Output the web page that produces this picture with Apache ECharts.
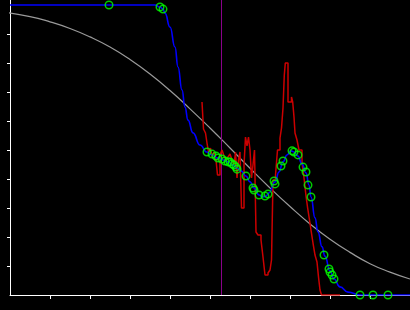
<!DOCTYPE html>
<html><head><meta charset="utf-8">
<script src="https://cdn.jsdelivr.net/npm/echarts@6/dist/echarts.min.js"></script>
<style>html,body{margin:0;padding:0;background:#000}#c{width:410px;height:310px}</style>
</head><body><div id="c"></div>
<script>
// Grey smooth curve
const greyX = [-0.25,0.5,1,1.5,2,2.5,3,3.5,4,4.5,5,5.5,6,6.5,7,7.5,8,8.5,9,9.5,10];
const greyY = [9.77,9.6,9.42,9.19,8.9,8.55,8.12,7.62,7.05,6.42,5.76,5.07,4.37,3.69,3.05,2.45,1.92,1.47,1.08,0.79,0.55];
// Blue fitted curve
const blueX = [0,3.375,3.625,3.75,3.825,3.875,4.0,4.125,4.2,4.3,4.375,4.45,4.575,4.75,4.925,5.05,5.2,5.325,5.45,5.575,5.675,5.775,5.9,6.0,6.1,6.225,6.325,6.4,6.475,6.625,6.725,6.825,6.925,7.025,7.1,7.2,7.3,7.4,7.475,7.525,7.625,7.7,7.8,7.875,8.0,8.1,8.25,8.45,8.75,10];
const blueY = [10,10,10,9.93,9.86,9.72,9.24,8.55,7.86,7.07,6.48,6.03,5.59,5.17,4.93,4.83,4.72,4.66,4.59,4.48,4.38,4.28,4.10,3.90,3.69,3.45,3.38,3.41,3.52,3.90,4.24,4.59,4.83,4.97,4.93,4.79,4.52,4.21,3.79,3.38,2.66,2.17,1.66,1.34,0.83,0.55,0.28,0.10,0,0];
// Green observed points
const ptX = [2.475,3.75,3.825,4.925,5.05,5.15,5.2,5.3,5.375,5.45,5.5,5.55,5.6,5.65,5.675,5.9,6.075,6.1,6.225,6.375,6.45,6.6,6.625,6.775,6.825,7.05,7.1,7.2,7.325,7.4,7.45,7.525,7.85,7.975,8.0,8.05,8.1,8.75,9.075,9.45];
const ptY = [10,9.93,9.86,4.93,4.86,4.79,4.72,4.69,4.62,4.59,4.59,4.52,4.48,4.41,4.34,4.10,3.69,3.62,3.45,3.41,3.48,3.93,3.83,4.45,4.62,4.97,4.93,4.83,4.41,4.24,3.79,3.38,1.38,0.90,0.79,0.69,0.55,0,0,0];
// Red histogram (step)
const redX = [4.8,4.8375,4.8875,4.925,4.9625,5.0125,5.05,5.1,5.15,5.1875,5.25,5.3,5.35,5.4,5.45,5.5,5.55,5.6,5.6375,5.675,5.7125,5.75,5.7875,5.85,5.8875,5.925,5.9625,6.0,6.0375,6.075,6.1125,6.15,6.2,6.275,6.325,6.375,6.45,6.5,6.5375,6.575,6.6375,6.6875,6.75,6.7875,6.825,6.8575,6.8825,6.95,7.0375,7.0675,7.1,7.125,7.175,7.225,7.3,7.35,7.4,7.4375,7.4875,7.525,7.575,7.625,7.675,7.7125,7.75,7.7875,8.25];
const redY = [6.655,5.724,5.586,5.241,4.931,5.069,4.759,4.931,4.655,4.138,4.828,5.0,4.793,4.655,4.759,4.862,4.655,4.483,4.931,4.034,4.655,4.931,3.0,4.483,5.448,5.138,5.448,5.0,4.034,4.483,5.0,2.172,2.069,1.897,1.31,0.69,0.759,0.862,1.207,3.966,4.138,5.0,5.414,5.759,6.448,7.586,8.0,6.655,6.828,6.655,6.138,5.586,5.345,5.0,4.586,4.034,3.414,3.034,2.586,2.241,1.793,1.379,1.138,0.621,0.172,0,0];
// Vertical marker
const markerX = 5.2875;
const yTop = 10.1724;
const tickVals = [1,2,3,4,5,6,7,8,9];

const zip = (a, b) => a.map((v, i) => [v, b[i]]);
const chart = echarts.init(document.getElementById('c'), null, {renderer: 'canvas'});
chart.setOption({
  backgroundColor: '#000',
  animation: false,
  grid: {left: 10, right: 0, top: 0, bottom: 15},
  xAxis: {
    type: 'value', min: 0, max: 10,
    axisLine: {show: true, onZero: false, lineStyle: {color: '#fff', width: 1}},
    axisTick: {show: true, length: 4, customValues: tickVals, lineStyle: {color: '#fff', width: 1}},
    axisLabel: {show: false},
    splitLine: {show: false}
  },
  yAxis: {
    type: 'value', min: 0, max: yTop,
    axisLine: {show: true, onZero: false, lineStyle: {color: '#fff', width: 1}},
    axisTick: {show: true, length: 3, customValues: tickVals, lineStyle: {color: '#fff', width: 1}},
    axisLabel: {show: false},
    splitLine: {show: false}
  },
  series: [
    {type: 'line', data: zip(greyX, greyY), smooth: true, showSymbol: false, clip: false,
     lineStyle: {color: '#9a9a9a', width: 1.2}, z: 2},
    {type: 'line', data: [[markerX, 0], [markerX, yTop]], showSymbol: false,
     lineStyle: {color: '#8a008a', width: 1}, z: 3},
    {type: 'line', data: zip(redX, redY), step: 'end', showSymbol: false,
     lineStyle: {color: '#cc0000', width: 1.5}, z: 4},
    {type: 'line', data: zip(blueX, blueY), smooth: 0.5, smoothMonotone: 'x', showSymbol: false,
     lineStyle: {color: '#0000ff', width: 1.6}, z: 5},
    {type: 'scatter', data: zip(ptX, ptY), symbol: 'circle', symbolSize: 7.5,
     itemStyle: {color: 'rgba(0,0,0,0)', borderColor: '#00ff00', borderWidth: 1.5}, z: 6}
  ]
});
</script></body></html>
